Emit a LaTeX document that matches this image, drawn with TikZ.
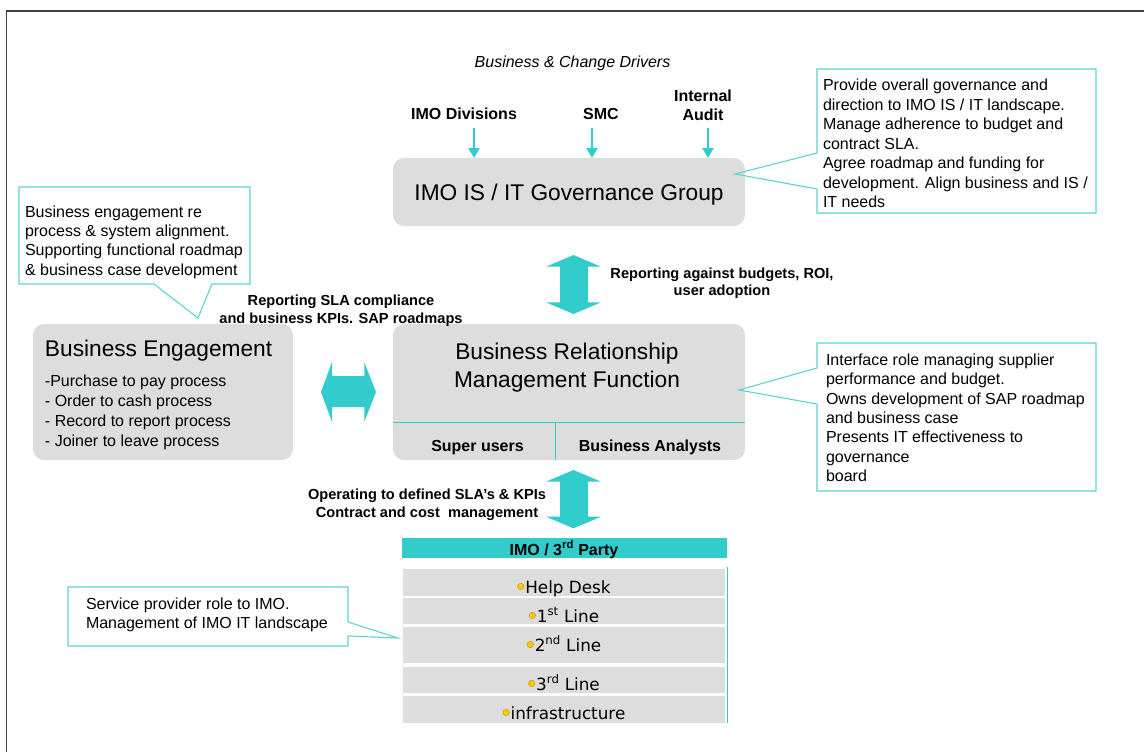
\documentclass[tikz,border=0pt]{standalone}
\usepackage{fontspec}
\setmainfont{Liberation Sans}
\newfontfamily\rowfont{DejaVu Sans}
\usetikzlibrary{arrows.meta}
\definecolor{tealc}{HTML}{33CCCC}
\definecolor{calloutc}{HTML}{5ED3D3}
\definecolor{boxgray}{HTML}{DDDDDD}
\definecolor{framec}{HTML}{404040}
\definecolor{bulletc}{HTML}{FFCC00}
\definecolor{bulletedge}{HTML}{C89600}
\newcommand\fsz[2]{\fontsize{#1}{#2}\selectfont}
\begin{document}
% multi-line nodes are anchored at the baseline of their last line
\begin{tikzpicture}[x=1pt,y=-1pt,
  every node/.style={inner sep=0pt,outer sep=0pt},
  graybox/.style={fill=boxgray,rounded corners=11pt,anchor=north west},
  rowbox/.style={fill=boxgray,anchor=north west,minimum width=322pt},
  driver/.style={draw=tealc,line width=2.5pt,-{Triangle[length=10pt,width=11pt]}},
  blockarrow/.style={fill=tealc},
  callout/.style={draw=calloutc,line width=1.1pt,line join=miter},
  callouttext/.style={anchor=base west,align=left,font=\fsz{16}{19.5}},
  title/.style={font=\fsz{22.7}{28}},
  boldlabel/.style={font=\bfseries\fsz{14.6}{17.3},align=center,anchor=base},
  driverlabel/.style={font=\bfseries\fsz{16}{19},align=center,anchor=base},
  rowtext/.style={font=\rowfont\fsz{16.8}{20},anchor=base},
  bulletdot/.style={fill=bulletc,draw=bulletedge,line width=0.5pt}
]
\useasboundingbox (0,0) rectangle (1144,752);

% outer frame
\draw[framec,line width=1.8pt] (6.5,752) -- (6.5,11) -- (1144,11);

% heading and drivers
\node[anchor=base,font=\itshape\fsz{16}{19}] (drivers) at (572.5,68) {Business \& Change Drivers};
\node[driverlabel] (imodiv) at (464,119) {IMO Divisions};
\node[driverlabel] (smc) at (601,119) {SMC};
\node[driverlabel] (audit) at (703,121) {Internal\\Audit};

% main boxes
\node[graybox,minimum width=352pt,minimum height=68pt] (gov) at (393,158) {};
\node[graybox,minimum width=260pt,minimum height=136pt] (be) at (33,324) {};
\node[graybox,minimum width=352pt,minimum height=136pt] (brm) at (393,324) {};

% driver arrows into the governance group
\coordinate (d1) at (474,128);
\coordinate (d2) at (592,128);
\coordinate (d3) at (708,128);
\draw[driver] (d1) -- (d1 |- gov.north);
\draw[driver] (d2) -- (d2 |- gov.north);
\draw[driver] (d3) -- (d3 |- gov.north);

\node[title,anchor=base] (govt) at (569,200) {IMO IS / IT Governance Group};

% business engagement
\node[title,anchor=base west] (bet) at (45,356) {Business Engagement};
\node[anchor=base west,align=left,font=\fsz{16}{19.7}] (beitems) at (45,446)
  {-Purchase to pay process\\- Order to cash process\\- Record to report process\\- Joiner to leave process};

% business relationship management
\node[title,anchor=base,align=center] (brmt) at (567,387) {Business Relationship\\Management Function};
\coordinate (split) at (555,422);
\draw[tealc,line width=0.9pt] (split -| brm.west) -- (split -| brm.east);
\draw[tealc,line width=0.9pt] (split) -- (split |- brm.south);
\node[anchor=base,font=\bfseries\fsz{16}{19}] (super) at (477.5,451) {Super users};
\node[anchor=base,font=\bfseries\fsz{16}{19}] (analysts) at (650,451) {Business Analysts};

% block arrows
\fill[blockarrow] (573.5,255) -- (601,266.7) -- (588,266.7) -- (588,302.3) -- (601,302.3)
  -- (573.5,314) -- (546,302.3) -- (560,302.3) -- (560,266.7) -- (546,266.7) -- cycle;
\fill[blockarrow] (321,392) -- (332,362) -- (332,376) -- (364.3,376) -- (364.3,362)
  -- (376,392) -- (364.3,422) -- (364.3,407) -- (332,407) -- (332,422) -- cycle;
\fill[blockarrow] (573.5,470) -- (601,481.7) -- (588,481.7) -- (588,516.7) -- (601,516.7)
  -- (573.5,528.3) -- (546,516.7) -- (560,516.7) -- (560,481.7) -- (546,481.7) -- cycle;

% arrow labels
\node[boldlabel] (lbudget) at (722,295.5) {Reporting against budgets, ROI,\\user adoption};
\node[boldlabel] (lsla) at (341,323) {Reporting SLA compliance\\and business KPIs. SAP roadmaps};
\node[boldlabel] (lops) at (427,517) {Operating to defined SLA’s \& KPIs\\Contract and cost\ \ management};

% IMO / 3rd party stack
\node[fill=tealc,anchor=north west,minimum width=325pt,minimum height=20pt] (party) at (402,538) {};
\node[anchor=base,font=\bfseries\fsz{16}{19}] (partyt) at (564,555) {IMO / 3\textsuperscript{rd} Party};
\node[rowbox,minimum height=27pt] (r1) at (403,569) {};
\node[rowbox,minimum height=26pt] (r2) at (403,598) {};
\node[rowbox,minimum height=36pt] (r3) at (403,627) {};
\node[rowbox,minimum height=26pt] (r4) at (403,667) {};
\node[rowbox,minimum height=27pt] (r5) at (403,696) {};
\coordinate (stackedge) at (727,567);
\draw[tealc,line width=1pt] (stackedge) -- (stackedge |- r5.south);

\node[rowtext] (t1) at (568,593) {Help Desk};
\node[rowtext] (t2) at (568,622) {1\textsuperscript{st} Line};
\node[rowtext] (t3) at (568,651) {2\textsuperscript{nd} Line};
\node[rowtext] (t4) at (568,690) {3\textsuperscript{rd} Line};
\node[rowtext] (t5) at (568,719) {infrastructure};
\foreach \t in {t1,t2,t3,t4,t5}
  \fill[bulletdot] ([xshift=-4.5pt,yshift=6.5pt]\t.base west) circle (3.2pt);

% callouts
\draw[callout] (817,69) -- (1096,69) -- (1096,213) -- (817,213) -- (817,189) -- (735,174) -- (817,153) -- cycle;
\node[callouttext] (c1) at (823,207.5)
  {Provide overall governance and\\direction to IMO IS / IT landscape.\\Manage adherence to budget and\\contract SLA.\\Agree roadmap and funding for\\development. Align business and IS /\\IT needs};

\draw[callout] (817,343) -- (1096,343) -- (1096,491) -- (817,491) -- (817,404) -- (739,390) -- (817,368) -- cycle;
\node[callouttext,font=\fsz{16}{19.3}] (c2) at (826,481.3)
  {Interface role managing supplier\\performance and budget.\\Owns development of SAP roadmap\\and business case\\Presents IT effectiveness to\\governance\\board};

\draw[callout] (19,187) -- (250,187) -- (250,284) -- (212,284) -- (198,318) -- (154,284) -- (19,284) -- cycle;
\node[callouttext,font=\fsz{16}{19.3}] (c3) at (25,275)
  {Business engagement re\\process \& system alignment.\\Supporting functional roadmap\\\& business case development};

\draw[callout] (68,587) -- (348,587) -- (348,622) -- (398,638) -- (348,636) -- (348,646) -- (68,646) -- cycle;
\node[callouttext] (c4) at (86,628.5)
  {Service provider role to IMO.\\Management of IMO IT landscape};
\end{tikzpicture}
\end{document}
